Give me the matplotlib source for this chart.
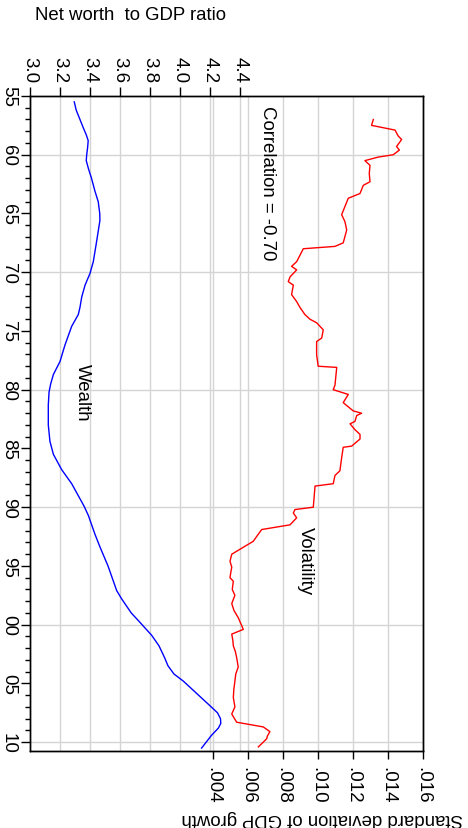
import matplotlib
matplotlib.use('Agg')
import matplotlib.pyplot as plt
from matplotlib.transforms import blended_transform_factory
from matplotlib.ticker import MultipleLocator

plt.rcParams['font.family'] = ['Liberation Sans', 'DejaVu Sans']

# ---------------- data ----------------
wealth_years = [1955.5, 1956.2, 1956.9, 1957.7, 1958.3, 1958.8, 1959.4, 1960.0, 1960.5, 1961.2,
                1962.0, 1963.1, 1964.0, 1965.0, 1965.6, 1966.5, 1967.7, 1969.1, 1970.1, 1971.1,
                1972.1, 1973.0, 1973.6, 1974.6, 1976.2, 1977.6, 1978.7, 1979.5, 1980.2, 1981.3,
                1983.0, 1984.4, 1985.5, 1986.8, 1988.0, 1989.9, 1990.7, 1992.3, 1993.4, 1995.0,
                1997.1, 1997.8, 1999.0, 1999.8, 2000.9, 2001.8, 2002.8, 2003.5, 2004.2, 2004.8,
                2006.9, 2007.5, 2008.0, 2008.4, 2008.8, 2009.4, 2010.5]
wealth_values = [3.295, 3.308, 3.330, 3.355, 3.375, 3.388, 3.384, 3.378, 3.375, 3.390,
                 3.410, 3.433, 3.455, 3.465, 3.466, 3.455, 3.440, 3.422, 3.400, 3.367,
                 3.345, 3.333, 3.322, 3.278, 3.233, 3.200, 3.156, 3.138, 3.127, 3.122,
                 3.122, 3.133, 3.156, 3.211, 3.278, 3.360, 3.389, 3.433, 3.467, 3.520,
                 3.578, 3.611, 3.675, 3.733, 3.811, 3.860, 3.897, 3.920, 3.960, 4.022,
                 4.200, 4.250, 4.270, 4.272, 4.256, 4.211, 4.144]

vol_years = [1957.0, 1957.5, 1957.9, 1958.4, 1958.7, 1959.3, 1959.6, 1960.0, 1960.2, 1960.5,
             1960.9, 1961.6, 1962.3, 1962.6, 1963.3, 1963.7, 1964.4, 1965.1, 1965.7, 1966.4, 1967.5,
             1967.8, 1968.0, 1969.1, 1969.5, 1969.8, 1970.4, 1970.8, 1971.1, 1971.9, 1972.5,
             1973.0, 1973.6, 1974.0, 1974.3, 1974.9, 1975.6, 1975.9, 1977.0, 1978.0, 1978.1,
             1979.6, 1980.0, 1980.4, 1981.1, 1981.8, 1982.0, 1982.2, 1982.7, 1982.9, 1983.4,
             1983.8, 1984.2, 1984.8, 1984.9, 1985.8, 1986.9, 1987.3, 1988.0, 1988.2, 1990.0,
             1990.2, 1990.5, 1990.9, 1991.5, 1991.9, 1992.5, 1992.9, 1994.0, 1994.6, 1995.1,
             1995.6, 1996.0, 1996.3, 1997.0, 1997.5, 1998.2, 1998.8, 1999.4, 2000.4, 2000.8,
             2001.3, 2001.8, 2002.3, 2002.8, 2003.6, 2004.2, 2004.8, 2005.5, 2006.2, 2007.0,
             2007.6, 2008.3, 2008.7, 2009.1, 2009.5, 2009.7, 2010.0, 2010.4]
vol_values = [0.01318, 0.01308, 0.01442, 0.01460, 0.01480, 0.01451, 0.01467, 0.01432, 0.01346, 0.01270,
              0.01299, 0.01295, 0.01299, 0.01261, 0.01242, 0.01175, 0.01156, 0.01137, 0.01156, 0.01166, 0.01146,
              0.01099, 0.00918, 0.00880, 0.00851, 0.00880, 0.00842, 0.00832, 0.00861, 0.00851, 0.00880,
              0.00899, 0.00927, 0.00956, 0.00994, 0.01032, 0.01023, 0.00994, 0.00994, 0.01003, 0.01109,
              0.01099, 0.01089, 0.01175, 0.01146, 0.01203, 0.01251, 0.01223, 0.01213, 0.01185, 0.01213,
              0.01242, 0.01242, 0.01194, 0.01146, 0.01137, 0.01127, 0.01099, 0.01089, 0.00985, 0.00975,
              0.00870, 0.00861, 0.00880, 0.00842, 0.00680, 0.00651, 0.00632, 0.00509, 0.00499, 0.00509,
              0.00503, 0.00499, 0.00518, 0.00512, 0.00527, 0.00509, 0.00522, 0.00546, 0.00575, 0.00509,
              0.00515, 0.00518, 0.00530, 0.00537, 0.00546, 0.00532, 0.00527, 0.00521, 0.00518, 0.00527,
              0.00509, 0.00537, 0.00689, 0.00727, 0.00712, 0.00709, 0.00689, 0.00661]

year_ticks = [1955, 1960, 1965, 1970, 1975, 1980, 1985, 1990, 1995, 2000, 2005, 2010]
year_labels = ['55', '60', '65', '70', '75', '80', '85', '90', '95', '00', '05', '10']
year_grid = [1960, 1970, 1980, 1990, 2000, 2010]
wealth_ticks = [3.0, 3.2, 3.4, 3.6, 3.8, 4.0, 4.2, 4.4]
wealth_tick_labels = ['3.0', '3.2', '3.4', '3.6', '3.8', '4.0', '4.2', '4.4']
vol_ticks = [0.004, 0.006, 0.008, 0.010, 0.012, 0.014, 0.016]
vol_tick_labels = ['.004', '.006', '.008', '.010', '.012', '.014', '.016']

# ---------------- figure ----------------
W, H = 468, 829
fig = plt.figure(figsize=(W / 100, H / 100), dpi=100)
ax = fig.add_axes([30 / W, 1 - 752 / H, 393 / W, 655 / H])
ax2 = ax.twiny()
ax.set_zorder(2)
ax.patch.set_visible(False)
ax2.set_zorder(1)
ax2.patch.set_facecolor('white')

grid_c = '#d4d4d4'
grid_lw = 1.0

# limits
ax.set_xlim(3.0, 5.62)
ax.set_ylim(2010.75, 1955.0)
ax2.set_xlim(-0.00644, 0.01602)

# grid (drawn on bottom axes)
for v in vol_ticks:
    ax2.axvline(v, color=grid_c, lw=grid_lw, zorder=0.5)
btr = blended_transform_factory(ax.transData, ax2.transAxes)
for w in wealth_ticks[1:]:
    ax2.plot([w, w], [0, 1], transform=btr, color=grid_c, lw=grid_lw, zorder=0.5)
for yr in year_grid:
    ax2.axhline(yr, color=grid_c, lw=grid_lw, zorder=0.5)

# series
ax2.plot(vol_values, vol_years, color='#ff0000', lw=1.0, zorder=2)
ax.plot(wealth_values, wealth_years, color='#0000ff', lw=1.0, zorder=2)

# wealth axis (top)
ax.xaxis.tick_top()
ax.set_xticks(wealth_ticks)
ax.set_xticklabels(wealth_tick_labels, rotation=-90)
ax.tick_params(axis='x', direction='out', length=6.5, width=1, pad=3.5, labelsize=13.5)

# year axis (left)
ax.set_yticks(year_ticks)
ax.set_yticklabels(year_labels, rotation=-90, va='center')
ax.yaxis.set_minor_locator(MultipleLocator(1))
ax.tick_params(axis='y', which='major', direction='out', length=6.5, width=1, pad=3, labelsize=13.5)
ax.tick_params(axis='y', which='minor', direction='out', length=3.6, width=1)

# volatility axis (bottom)
ax2.xaxis.tick_bottom()
ax2.set_xticks(vol_ticks)
ax2.set_xticklabels(vol_tick_labels, rotation=-90)
ax2.tick_params(axis='x', direction='out', length=5.5, width=1, pad=5, labelsize=13.5)

for a in (ax, ax2):
    for s in a.spines.values():
        s.set_color('black')
        s.set_linewidth(1.0)

# annotations
ax.text(0.605, 0.869, 'Correlation = -0.70', transform=ax.transAxes, rotation=-90,
        ha='center', va='center', fontsize=13.4)
ax.text(0.134, 0.548, 'Wealth', transform=ax.transAxes, rotation=-90,
        ha='center', va='center', fontsize=13.4)
ax.text(0.700, 0.292, 'Volatility', transform=ax.transAxes, rotation=-90,
        ha='center', va='center', fontsize=13.4)

fig.text(35 / W, 1 - 15 / H, 'Net worth  to GDP ratio', ha='left', va='center', fontsize=13.4)
fig.text(321.7 / W, 1 - 818 / H, 'Standard deviation of GDP growth', rotation=180,
         ha='center', va='center', fontsize=13.4)

fig.savefig('out.png', dpi=100)
